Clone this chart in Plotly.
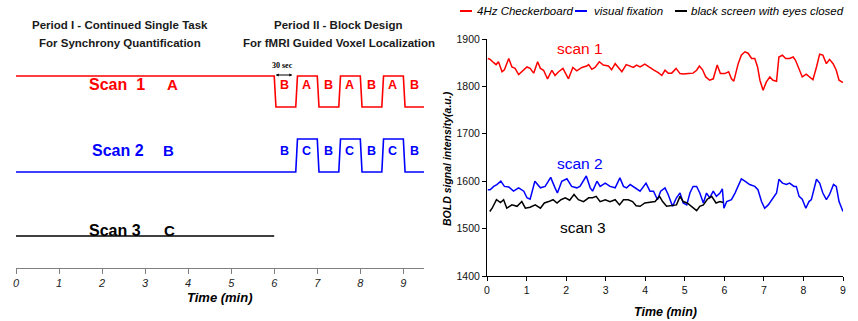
import plotly.graph_objects as go

W, H = 858, 321

# ---------------- data: right panel (BOLD signal) ----------------
scan1_t = [0.02,0.08,0.17,0.23,0.29,0.38,0.44,0.55,0.63,0.71,0.80,0.88,1.01,1.09,1.18,1.28,1.35,1.43,1.53,1.64,
           1.72,1.81,1.92,2.06,2.17,2.27,2.40,2.52,2.57,2.65,2.73,2.84,2.94,3.07,3.15,3.24,3.32,3.41,3.52,3.62,
           3.70,3.78,3.87,3.99,4.12,4.21,4.33,4.42,4.50,4.58,4.67,4.78,4.88,4.96,5.09,5.21,5.30,5.37,5.45,5.53,
           5.63,5.72,5.82,5.90,6.01,6.11,6.18,6.24,6.35,6.43,6.52,6.60,6.69,6.77,6.84,6.90,6.98,7.06,7.15,7.23,
           7.32,7.38,7.47,7.55,7.65,7.74,7.80,7.89,7.97,8.07,8.16,8.24,8.33,8.41,8.49,8.58,8.66,8.75,8.83,8.90,9.00]
scan1_v = [1859,1857,1850,1846,1852,1831,1835,1859,1841,1838,1825,1831,1841,1838,1828,1852,1838,1834,1816,1834,
           1823,1831,1838,1816,1840,1833,1840,1843,1846,1836,1840,1852,1845,1843,1835,1848,1841,1831,1846,1843,
           1840,1845,1841,1847,1839,1835,1829,1823,1834,1828,1828,1838,1827,1826,1827,1828,1834,1843,1835,1820,
           1813,1816,1845,1827,1827,1831,1816,1811,1848,1866,1873,1870,1859,1859,1841,1813,1792,1809,1820,1813,
           1811,1862,1866,1859,1859,1862,1855,1834,1820,1826,1820,1814,1841,1868,1866,1848,1857,1848,1834,1813,1808]

scan2_t = [0.02,0.08,0.17,0.25,0.35,0.44,0.55,0.67,0.80,0.93,1.01,1.09,1.21,1.35,1.47,1.61,1.72,1.78,1.89,2.02,
           2.14,2.27,2.35,2.51,2.61,2.67,2.78,2.86,2.99,3.11,3.24,3.36,3.45,3.53,3.62,3.74,3.87,4.02,4.12,4.21,
           4.31,4.39,4.50,4.58,4.69,4.79,4.88,4.96,5.05,5.13,5.21,5.30,5.38,5.47,5.55,5.63,5.72,5.80,5.89,5.95,
           5.99,6.06,6.18,6.27,6.35,6.43,6.52,6.64,6.77,6.85,6.94,7.02,7.11,7.23,7.32,7.38,7.47,7.57,7.65,7.76,
           7.82,7.89,7.97,8.06,8.14,8.20,8.33,8.41,8.49,8.58,8.66,8.76,8.83,8.90,9.00]
scan2_v = [1582,1582,1589,1593,1600,1589,1588,1579,1586,1579,1565,1562,1600,1586,1589,1608,1586,1575,1600,1605,
           1589,1586,1589,1611,1586,1579,1600,1589,1596,1589,1586,1607,1589,1586,1593,1586,1579,1596,1579,1579,
           1561,1579,1586,1572,1547,1565,1575,1554,1550,1575,1589,1589,1575,1554,1575,1565,1579,1568,1575,1584,
           1543,1557,1561,1575,1589,1605,1600,1593,1589,1582,1557,1543,1550,1565,1575,1604,1596,1593,1596,1589,
           1589,1568,1562,1543,1557,1561,1604,1596,1575,1561,1572,1593,1589,1557,1536]

scan3_t = [0.07,0.13,0.24,0.34,0.42,0.50,0.63,0.76,0.88,0.97,1.09,1.22,1.35,1.45,1.56,1.67,1.77,1.87,1.98,2.09,
           2.20,2.31,2.44,2.57,2.67,2.76,2.86,2.99,3.11,3.24,3.35,3.45,3.57,3.68,3.77,3.87,3.99,4.12,4.25,4.36,
           4.44,4.54,4.67,4.79,4.88,4.96,5.06,5.17,5.30,5.38,5.47,5.57,5.68,5.79,5.89,5.97]
scan3_v = [1536,1543,1561,1555,1561,1543,1550,1547,1557,1543,1545,1550,1543,1554,1557,1561,1554,1561,1565,1560,
           1572,1561,1557,1565,1565,1568,1557,1561,1557,1561,1550,1561,1561,1557,1548,1547,1554,1555,1557,1568,
           1557,1547,1548,1550,1568,1557,1554,1547,1538,1547,1550,1562,1568,1554,1557,1555]

series_names = ["4Hz Checkerboard", "visual fixation", "black screen with eyes closed"]
series_colors = ["#ff0000", "#0000ff", "#000000"]

# ---------------- data: left panel (paradigm) ----------------
period1_len = 6.0          # minutes of continuous single task
block_len = 0.5            # 30 sec blocks
scan1_task = "A"
scan1_blocks = ["B", "A", "B", "A", "B", "A", "B"]
scan2_task = "B"
scan2_blocks = ["B", "C", "B", "C", "B", "C", "B"]
scan3_task = "C"
x_ticks = [0, 1, 2, 3, 4, 5, 6, 7, 8, 9]
y_ticks = [1400, 1500, 1600, 1700, 1800, 1900]


def px(x):
    return x / W


def py(y):
    return 1 - y / H


def waveform(task, blocks, high, low, on=("A", "C"), ramp=0.04):
    segs = [(0.0, period1_len, task)]
    t = period1_len
    for b in blocks:
        segs.append((t, t + block_len, b))
        t += block_len
    xs, ys = [], []
    for i, (t0, t1, lab) in enumerate(segs):
        lvl = high if lab in on else low
        xs += [t0 + (ramp if i > 0 else 0), t1 - 0.001 if i == len(segs) - 1 else t1]
        ys += [lvl, lvl]
    return xs, ys


fig = go.Figure()

# left panel level positions (layout constants, pixel-like units)
L1_hi, L1_lo = 192, 161
L2_hi, L2_lo = 129, 96
L3 = 32

x1, y1 = waveform(scan1_task, scan1_blocks, L1_hi, L1_lo)
x2, y2 = waveform(scan2_task, scan2_blocks, L2_hi, L2_lo)
fig.add_trace(go.Scatter(x=x1, y=y1, mode="lines", line=dict(color="#ff0000", width=1.6),
                         xaxis="x", yaxis="y", showlegend=False, hoverinfo="skip"))
fig.add_trace(go.Scatter(x=x2, y=y2, mode="lines", line=dict(color="#0000ff", width=1.6),
                         xaxis="x", yaxis="y", showlegend=False, hoverinfo="skip"))
fig.add_trace(go.Scatter(x=[0, period1_len], y=[L3, L3], mode="lines", line=dict(color="#000000", width=1.6),
                         xaxis="x", yaxis="y", showlegend=False, hoverinfo="skip"))

# right panel traces
for tt, vv, nm, col in [(scan1_t, scan1_v, series_names[0], series_colors[0]),
                        (scan2_t, scan2_v, series_names[1], series_colors[1]),
                        (scan3_t, scan3_v, series_names[2], series_colors[2])]:
    fig.add_trace(go.Scatter(x=tt, y=vv, mode="lines", name=nm, line=dict(color=col, width=1.5),
                             xaxis="x2", yaxis="y2", showlegend=False))

ann = []
AR = "Arial, Liberation Sans, sans-serif"


def txt_ann(text, x, y, size, color, family=AR, xanchor="center", **kw):
    d = dict(text=text, x=px(x), y=py(y), xref="paper", yref="paper", showarrow=False,
             xanchor=xanchor, yanchor="middle", font=dict(family=family, size=size, color=color))
    d.update(kw)
    return d


# left headings
for t, x, y in [("Period I - Continued Single Task", 120, 25),
                ("For Synchrony Quantification", 120, 43),
                ("Period II - Block Design", 338, 25),
                ("For fMRI Guided Voxel Localization", 339, 43)]:
    ann.append(txt_ann("<b>%s</b>" % t, x, y, 11.5, "#1a1a1a"))

# scan labels
for t, col, x, y in [("Scan  1", "#ff0000", 117, 85), ("Scan 2", "#0000ff", 118, 151),
                     ("Scan 3", "#000000", 115, 230)]:
    ann.append(txt_ann("<b>%s</b>" % t, x, y, 16, col))
for t, col, x, y in [(scan1_task, "#ff0000", 172, 85), (scan2_task, "#0000ff", 168, 151),
                     (scan3_task, "#000000", 169, 230)]:
    ann.append(txt_ann("<b>%s</b>" % t, x, y, 15, col))

# block labels
for blocks, col, ypx in [(scan1_blocks, "#ff0000", 85), (scan2_blocks, "#0000ff", 151)]:
    for i, b in enumerate(blocks):
        ann.append(dict(text="<b>%s</b>" % b, x=period1_len + block_len * (i + 0.5), xref="x",
                        y=py(ypx), yref="paper", showarrow=False, xanchor="center", yanchor="middle",
                        font=dict(family=AR, size=12.5, color=col)))

# 30 sec marker
ann.append(txt_ann("<b>30 sec</b>", 282, 65, 8, "#000", family="Liberation Serif, Times New Roman, serif"))
ann.append(dict(x=period1_len + 0.42, y=py(75), ax=period1_len, ay=0, xref="x", yref="paper",
                axref="x", ayref="pixel", showarrow=True, arrowhead=2, arrowsize=0.6,
                arrowwidth=1, arrowside="end+start", arrowcolor="#000", text=""))

# left axis title
ann.append(txt_ann("<b><i>Time (min)</i></b>", 220, 297, 13, "#000"))

# right panel scan annotations
for t, col, x, y in [("scan 1", "#ff0000", 580, 48), ("scan 2", "#0000ff", 580, 164),
                     ("scan 3", "#000000", 583, 227)]:
    ann.append(txt_ann(t, x, y, 15.5, col))

# legend (manual)
shapes = []
leg_x = [(460, 475), (575, 592), (675, 689)]
for (sx, tx), nm, col in zip(leg_x, series_names, series_colors):
    shapes.append(dict(type="line", xref="paper", yref="paper", x0=px(sx), x1=px(sx + 12),
                       y0=py(11), y1=py(11), line=dict(color=col, width=2)))
    ann.append(txt_ann("<i>%s</i>" % nm, tx, 11, 11.5, "#000", xanchor="left"))

# right axis titles
ann.append(txt_ann("<b><i>Time (min)</i></b>", 665, 312, 12.5, "#000"))
ann.append(txt_ann("<b><i>BOLD signal intensity(a.u.)</i></b>", 447, 158, 10.5, "#000", textangle=-90))

fig.update_layout(
    width=W, height=H, margin=dict(l=0, r=0, t=0, b=0, pad=0, autoexpand=False),
    paper_bgcolor="white", plot_bgcolor="white",
    showlegend=False,
    annotations=ann, shapes=shapes,
    xaxis=dict(domain=[px(16), px(424)], range=[0, 9.48], tickvals=x_ticks,
               ticktext=["<i>%d</i>" % v for v in x_ticks], automargin=False,
               showline=True, linecolor="#808080", linewidth=1, ticks="outside", ticklen=5,
               tickcolor="#808080", showgrid=False, zeroline=False,
               tickfont=dict(family=AR, size=11, color="#222"), anchor="y"),
    yaxis=dict(domain=[py(268), 1], range=[0, 268], visible=False, anchor="x", automargin=False),
    xaxis2=dict(domain=[px(487), px(843)], range=[0, 9], tickvals=x_ticks, automargin=False,
                showline=True, linecolor="#000", linewidth=1, ticks="outside", ticklen=4,
                tickcolor="#000", showgrid=False, zeroline=False,
                tickfont=dict(family=AR, size=10.5, color="#111"), anchor="y2"),
    yaxis2=dict(domain=[py(276), py(39)], range=[1400, 1900], tickvals=y_ticks, automargin=False,
                showline=True, linecolor="#000", linewidth=1, ticks="outside", ticklen=4,
                tickcolor="#000", showgrid=False, zeroline=False,
                tickfont=dict(family=AR, size=10.5, color="#111"), anchor="x2"),
)

fig.write_html("out.html", config={"displayModeBar": False},
               post_script="document.body.style.margin='0';")
